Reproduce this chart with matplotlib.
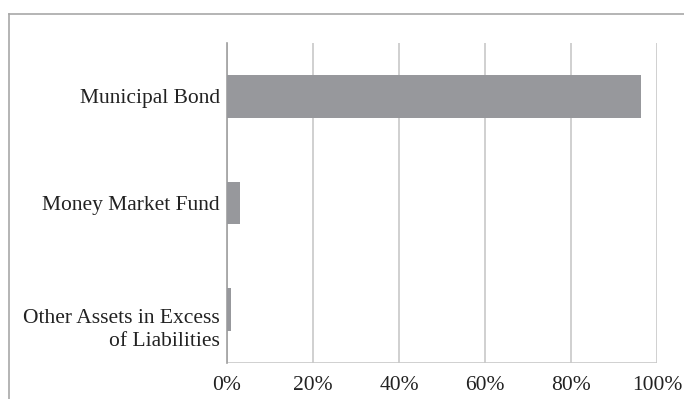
import matplotlib.pyplot as plt
import matplotlib.transforms as mtransforms
from matplotlib.lines import Line2D

categories = ["Municipal Bond", "Money Market Fund", "Other Assets in Excess\nof Liabilities"]
values = [96.3, 3.0, 0.9]
xticks = [0, 20, 40, 60, 80, 100]

plt.rcParams['font.family'] = ['Liberation Serif', 'DejaVu Serif']

fig = plt.figure(figsize=(6.84, 3.99), dpi=100)
W, H = 684, 399
ax = fig.add_axes([227 / W, 1 - 363 / H, (657 - 227) / W, (363 - 43) / H])

pos = list(range(len(categories)))
ax.barh(pos, values, height=0.4, color='#97989c', zorder=3)
ax.set_ylim(len(categories) - 0.5, -0.5)
ax.set_xlim(0, 100)
ax.set_xticks(xticks)
ax.set_xticklabels([f"{t}%" for t in xticks], fontsize=15.5, color='#222222')
ax.set_yticks(pos)
ax.set_yticklabels(categories, fontsize=15.5, color='#222222', linespacing=1.3)
ax.tick_params(axis='y', length=0, pad=5)
ax.tick_params(axis='x', length=0, pad=9)

# the two-line label sits a bit lower than its bar, as in the source
lbl = ax.get_yticklabels()[-1]
lbl.set_transform(lbl.get_transform() + mtransforms.ScaledTranslation(0, -0.16, fig.dpi_scale_trans))

ax.grid(axis='x', color='#c8c8c8', linewidth=1.2, zorder=0)
for s in ['top', 'right', 'bottom']:
    ax.spines[s].set_visible(False)
ax.spines['left'].set_color('#a0a0a0')
ax.spines['left'].set_linewidth(1.2)
ax.axhline(len(categories) - 0.5, color='#c8c8c8', linewidth=1.2, zorder=1)

# outer chart border (partially cropped)
fig.add_artist(Line2D([9 / W, 1], [1 - 14 / H, 1 - 14 / H], color='#a8a8a8', lw=1.2))
fig.add_artist(Line2D([9 / W, 9 / W], [0, 1 - 14 / H], color='#a8a8a8', lw=1.2))

fig.savefig('out.png', dpi=100)
